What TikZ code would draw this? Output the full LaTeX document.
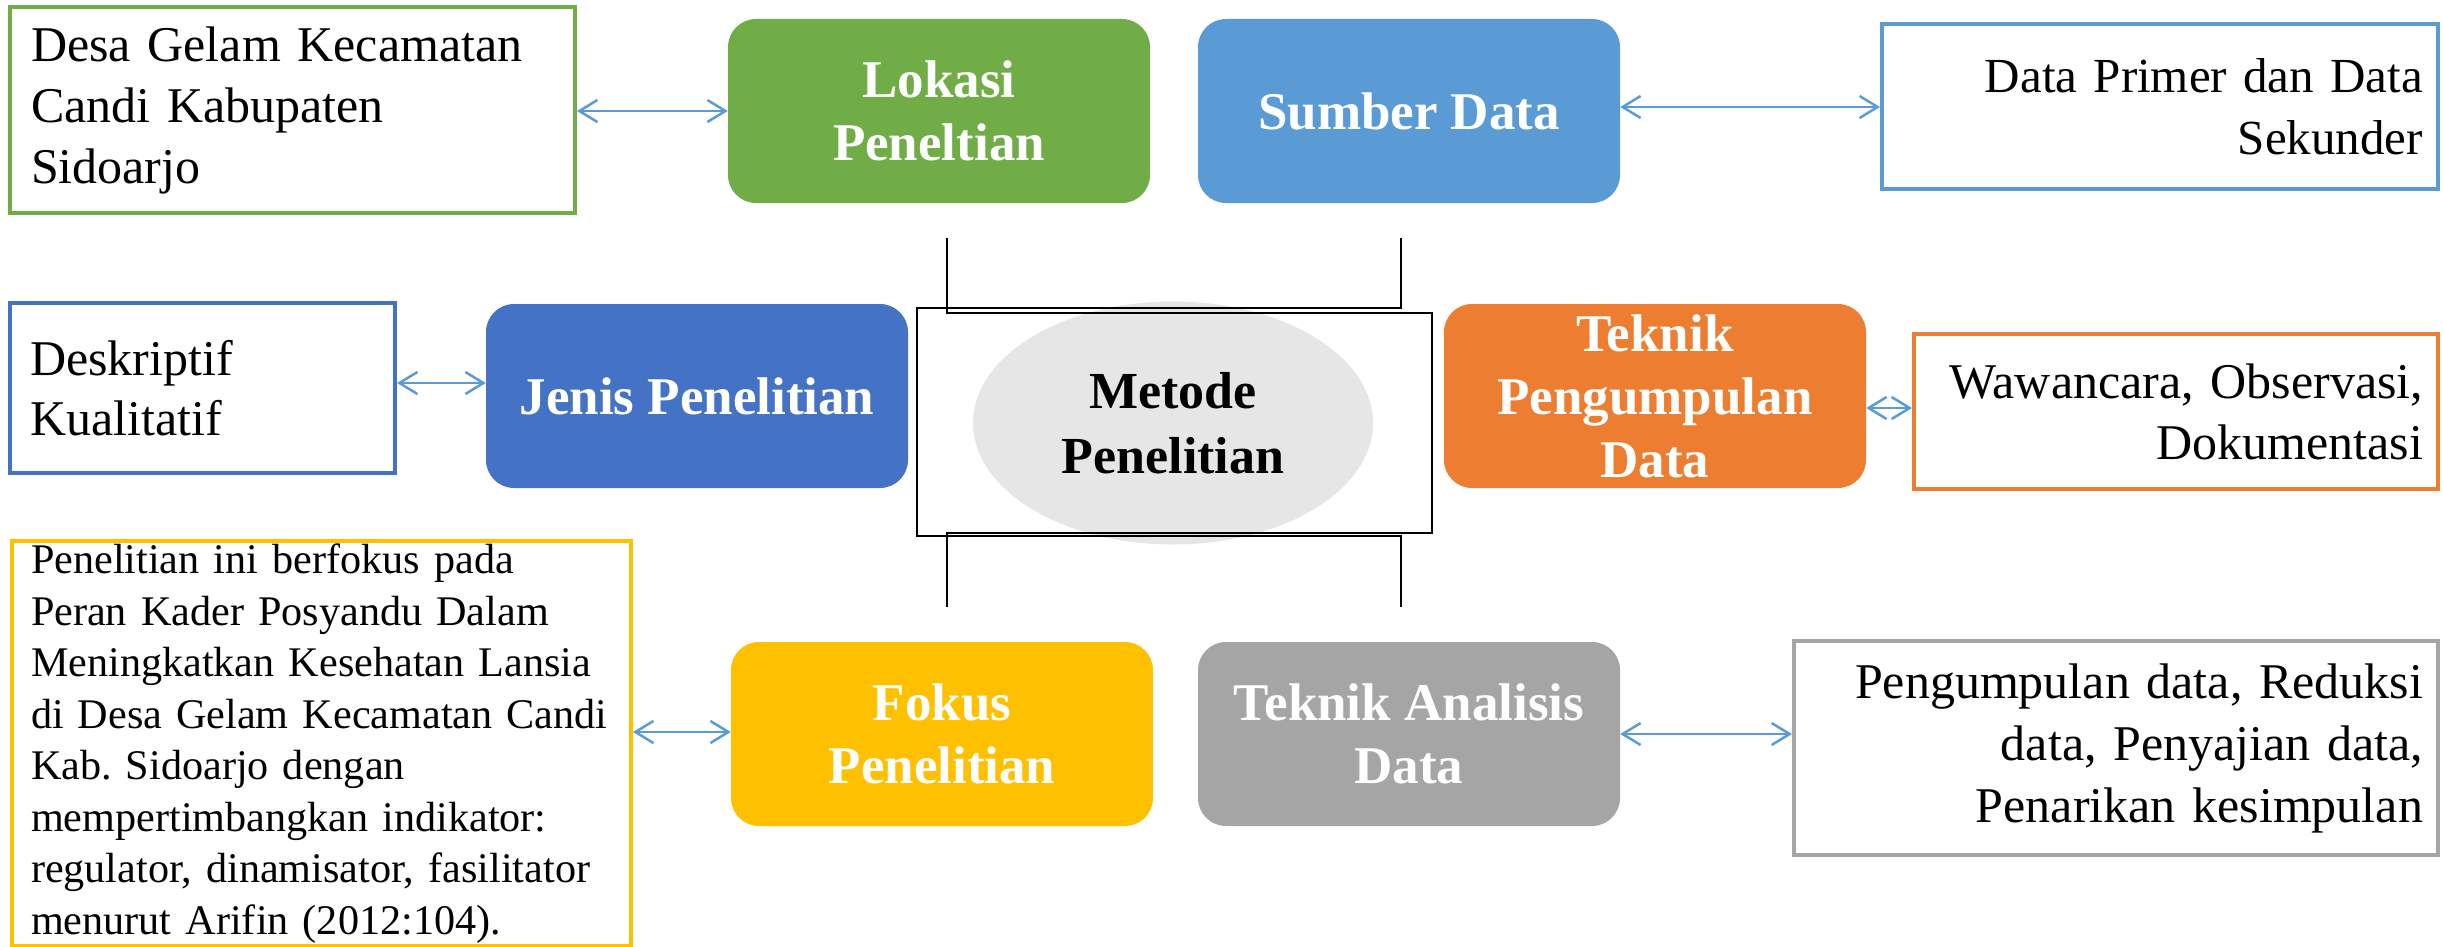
\documentclass[tikz,border=0pt]{standalone}
\usepackage{fontspec}
\setmainfont{Liberation Serif}
\frenchspacing
\usetikzlibrary{arrows.meta,calc,shapes.geometric}
\definecolor{cGreen}{HTML}{70AD47}
\definecolor{cLBlue}{HTML}{5B9BD5}
\definecolor{cBlue}{HTML}{4472C4}
\definecolor{cOrange}{HTML}{ED7D31}
\definecolor{cGold}{HTML}{FFC000}
\definecolor{cGray}{HTML}{A5A5A5}
\definecolor{cEll}{HTML}{E7E6E6}
\tikzset{
  cbox/.style={rounded corners=28pt, minimum width=422pt, minimum height=184pt,
    text=white, font=\fontsize{53}{63}\selectfont\bfseries, align=center, inner sep=0pt},
  tbox/.style={draw, line width=4pt, font=\fontsize{50}{61}\selectfont, inner ysep=0pt},
  link/.style={draw=cLBlue, line width=2.5pt,
    {Straight Barb[length=18pt,width=22pt]}-{Straight Barb[length=18pt,width=22pt]}},
  frameline/.style={line width=1.8pt, black}
}
\begin{document}
\begin{tikzpicture}[x=1pt,y=-1pt]
\useasboundingbox (0,0) rectangle (2443,947);
\fill[white] (0,0) rectangle (2443,947);
\clip (0,0) rectangle (2443,947);

% central ellipse
\node[ellipse, fill=cEll, minimum width=400pt, minimum height=243pt, inner sep=0pt,
  font=\fontsize{52}{65}\selectfont\bfseries, align=center] (metode) at (1173,423) {Metode\\Penelitian};

% central frame lines
\draw[frameline] (1401,238) -- (1401,308) -- (917,308) -- (917,536) -- (1401,536) -- (1401,607);
\draw[frameline] (947,238) -- (947,313) -- (1432,313) -- (1432,533) -- (947,533) -- (947,607);

% coloured boxes
\node[cbox, fill=cGreen] (lokasi) at (939,111) {Lokasi\\Peneltian};
\node[cbox, fill=cLBlue] (sumber) at (1409,111) {Sumber Data};
\node[cbox, fill=cBlue] (jenis) at (697,396) {Jenis Penelitian};
\node[cbox, fill=cOrange] (tpd) at (1655,396) {Teknik\\Pengumpulan\\Data};
\node[cbox, fill=cGold] (fokus) at (942,734) {Fokus\\Penelitian};
\node[cbox, fill=cGray] (tad) at (1409,734) {Teknik Analisis\\Data};

% text boxes
\node[tbox, draw=cGreen, minimum height=206pt, inner xsep=21pt, text width=523pt, align=left]
  (desa) at (292.5,110) {Desa Gelam Kecamatan\\Candi Kabupaten\\Sidoarjo};
\node[tbox, draw=cLBlue, minimum height=165pt, inner xsep=15pt, text width=526pt, align=right,
  font=\fontsize{49}{62}\selectfont]
  (primer) at (2160,106.5) {Data Primer dan Data\\Sekunder};
\node[tbox, draw=cBlue, minimum height=170pt, inner xsep=20pt, text width=345pt, align=left,
  font=\fontsize{50}{60}\selectfont]
  (desk) at (202.5,388) {Deskriptif\\Kualitatif};
\node[tbox, draw=cOrange, minimum height=155pt, inner xsep=15pt, text width=494pt, align=right]
  (wawan) at (2176,411.5) {Wawancara, Observasi,\\Dokumentasi};
\node[tbox, draw=cGold, anchor=north west, minimum height=405pt, inner xsep=19pt, text width=581pt, align=left,
  font=\fontsize{42.2}{51.5}\selectfont]
  (fokusdesc) at (10,539) {Penelitian ini berfokus pada\\Peran Kader Posyandu Dalam\\Meningkatkan Kesehatan Lansia\\di Desa Gelam Kecamatan Candi\\Kab. Sidoarjo dengan\\mempertimbangkan indikator:\\regulator, dinamisator, fasilitator\\menurut Arifin (2012:104).};
\node[tbox, draw=cGray, minimum height=214pt, inner xsep=15pt, text width=614pt, align=right,
  font=\fontsize{50}{62}\selectfont]
  (analisis) at (2116,748) {Pengumpulan data, Reduksi\\data, Penyajian data,\\Penarikan kesimpulan};

% connectors
\coordinate (yA) at (0,111);
\coordinate (yB) at (0,107);
\coordinate (yC) at (0,383);
\coordinate (yD) at (0,408);
\coordinate (yE) at (0,732);
\coordinate (yF) at (0,734);
\draw[link] (desa.east |- yA) -- (lokasi.west |- yA);
\draw[link] (sumber.east |- yB) -- (primer.west |- yB);
\draw[link] (desk.east |- yC) -- (jenis.west |- yC);
\draw[link] (tpd.east |- yD) -- (wawan.west |- yD);
\draw[link] (fokusdesc.east |- yE) -- (fokus.west |- yE);
\draw[link] (tad.east |- yF) -- (analisis.west |- yF);
\end{tikzpicture}
\end{document}
